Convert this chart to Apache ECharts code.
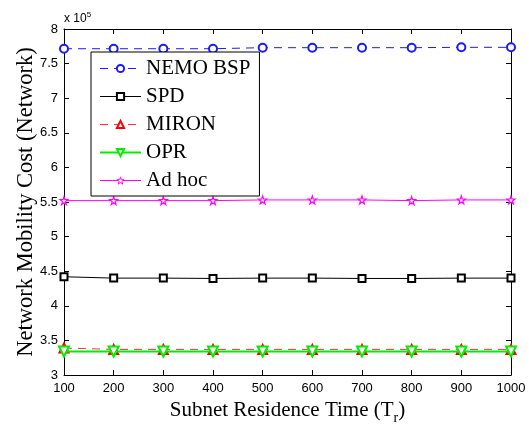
<!DOCTYPE html>
<html><head><meta charset="utf-8">
<script src="https://cdn.jsdelivr.net/npm/echarts@6/dist/echarts.min.js"></script>
<style>html,body{margin:0;padding:0;background:#fff}#c{width:529px;height:426px}</style>
</head><body><div id="c"></div>
<script>
const xValues = [100, 200, 300, 400, 500, 600, 700, 800, 900, 1000];
const nemoBsp = [7.715, 7.715, 7.715, 7.715, 7.73, 7.73, 7.73, 7.73, 7.735, 7.735];
const spd     = [4.42, 4.40, 4.40, 4.395, 4.40, 4.40, 4.395, 4.395, 4.40, 4.40];
const miron   = [3.39, 3.37, 3.37, 3.37, 3.37, 3.37, 3.37, 3.37, 3.37, 3.37];
const opr     = [3.34, 3.34, 3.34, 3.34, 3.34, 3.34, 3.34, 3.34, 3.34, 3.34];
const adHoc   = [5.52, 5.52, 5.52, 5.52, 5.53, 5.53, 5.53, 5.52, 5.53, 5.53];
const seriesNames = ['NEMO BSP', 'SPD', 'MIRON', 'OPR', 'Ad hoc'];
const xTicks = [100, 1000, 100];   // min, max, step
const yTicks = [3, 8, 0.5];

const pair = arr => xValues.map((x, i) => [x, arr[i]]);
const star = 'path://M50,0 L61,35 L98,35 L68,57 L79,91 L50,70 L21,91 L32,57 L2,35 L39,35 Z';
const sans = 'Liberation Sans';
const serif = 'Liberation Serif';

const colors = ['#1a1aff', '#000', '#ff0000', '#00ee00', '#ff00ff'];
const styles = [
  {line: {color: '#1a1aff', width: 1, type: [8, 6]}, item: {color: '#1a1aff', borderWidth: 1.2}},
  {line: {color: '#000', width: 1, type: 'solid'}, item: {color: '#000', borderWidth: 1}},
  {line: {color: '#ff3030', width: 1, type: [8, 6]}, item: {color: '#ff0000', borderWidth: 1.2}},
  {line: {color: '#00ee00', width: 2, type: 'solid'}, item: {color: '#00ee00', borderWidth: 2}},
  {line: {color: '#ff00ff', width: 1, type: 'solid'}, item: {color: '#fff', borderColor: '#ff00ff', borderWidth: 1.2}}
];
const legendItem = [
  {color: colors[0], borderWidth: 1},
  {color: colors[1], borderWidth: 1},
  {color: colors[2], borderWidth: 1},
  {color: colors[3], borderWidth: 1.5},
  {color: '#fff', borderColor: colors[4], borderWidth: 1}
];

const chart = echarts.init(document.getElementById('c'), null, {renderer: 'canvas'});
const axisCommon = {
  axisLine: {lineStyle: {color: '#000', width: 1}},
  axisTick: {inside: true, length: 5, lineStyle: {color: '#000'}},
  splitLine: {show: false}
};
chart.setOption({
  animation: false,
  backgroundColor: '#fff',
  grid: {left: 64, top: 29, right: 18, bottom: 51, containLabel: false, outerBoundsMode: 'none'},
  xAxis: [
    Object.assign({type: 'value', min: xTicks[0], max: xTicks[1], interval: xTicks[2], position: 'bottom',
      axisLabel: {fontFamily: sans, fontSize: 13, color: '#000', margin: 7, formatter: v => String(v)},
      name: '{a|Subnet Residence Time (T}{s|r}{a|)}', nameLocation: 'middle', nameGap: 16,
      nameTextStyle: {rich: {a: {fontFamily: serif, fontSize: 21, color: '#000'},
                             s: {fontFamily: serif, fontSize: 14, color: '#000', verticalAlign: 'bottom', padding: [16, 0, 0, 0]}}}
    }, axisCommon),
    Object.assign({type: 'value', min: xTicks[0], max: xTicks[1], interval: xTicks[2], position: 'top',
      axisLabel: {show: false}}, axisCommon)
  ],
  yAxis: [
    Object.assign({type: 'value', min: yTicks[0], max: yTicks[1], interval: yTicks[2], position: 'left',
      axisLabel: {fontFamily: sans, fontSize: 13, color: '#000', margin: 6},
      name: 'Network Mobility Cost (Network)', nameLocation: 'middle', nameGap: 26, nameMoveOverlap: false,
      nameTextStyle: {fontFamily: serif, fontSize: 22.5, color: '#000'}
    }, axisCommon),
    Object.assign({type: 'value', min: yTicks[0], max: yTicks[1], interval: yTicks[2], position: 'right',
      axisLabel: {show: false}}, axisCommon)
  ],
  legend: {
    orient: 'vertical', left: 91, top: 52,
    padding: [6, 9, 5, 8],
    borderColor: '#000', borderWidth: 1, backgroundColor: '#fff',
    itemWidth: 41, itemHeight: 9, itemGap: 7,
    textStyle: {fontFamily: serif, fontSize: 21, color: '#000', lineHeight: 21},
    data: seriesNames.map((n, i) => ({name: n, lineStyle: styles[i].line, itemStyle: legendItem[i]}))
  },
  graphic: [{
    type: 'text', left: 64, top: 11,
    style: {text: '{a|x 10}{b|5}', rich: {a: {fontFamily: sans, fontSize: 12, fill: '#000'},
      b: {fontFamily: sans, fontSize: 8, fill: '#000', verticalAlign: 'top', padding: [0, 0, 8, 0]}}}
  }],
  series: [
    {name: seriesNames[0], type: 'line', data: pair(nemoBsp), symbol: 'emptyCircle', symbolSize: 8,
      lineStyle: styles[0].line, itemStyle: styles[0].item, z: 3},
    {name: seriesNames[1], type: 'line', data: pair(spd), symbol: 'emptyRect', symbolSize: 7,
      lineStyle: styles[1].line, itemStyle: styles[1].item, z: 3},
    {name: seriesNames[2], type: 'line', data: pair(miron), symbol: 'emptyTriangle', symbolSize: 9,
      lineStyle: styles[2].line, itemStyle: styles[2].item, z: 3},
    {name: seriesNames[3], type: 'line', data: pair(opr), symbol: 'emptyTriangle', symbolRotate: 180, symbolSize: 10,
      lineStyle: styles[3].line, itemStyle: styles[3].item, z: 4},
    {name: seriesNames[4], type: 'line', data: pair(adHoc), symbol: star, symbolSize: 8,
      lineStyle: styles[4].line, itemStyle: styles[4].item, z: 3}
  ]
});
</script></body></html>
